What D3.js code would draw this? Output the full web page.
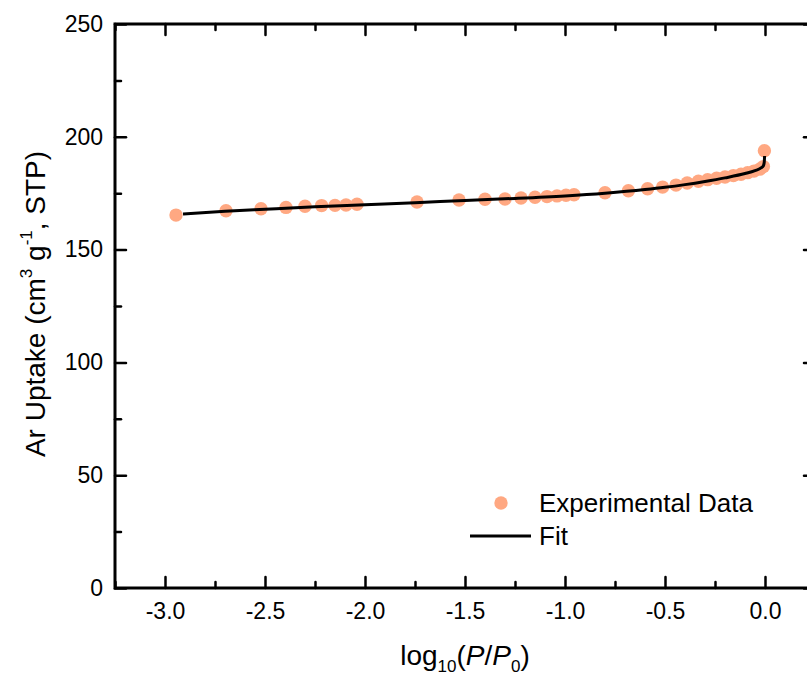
<!DOCTYPE html>
<html lang="en">
<head>
  <meta charset="UTF-8">
  <title>Ar Uptake</title>
  <style>
  body { margin: 0; background: #fff; }
  svg { display: block; font-family: "Liberation Sans", Arial, sans-serif; }
  .axis line { stroke: #000; stroke-width: 2.5px; stroke-linecap: round; }
  .axis text { font-size: 23px; fill: #000; }
  </style>
</head>
<body>
  <svg></svg>
  <script src="https://d3js.org/d3.v7.min.js"></script>
  <script>

  // experimental points
  var expX = [-2.945, -2.695, -2.52, -2.395, -2.30, -2.217, -2.15, -2.095, -2.04,
              -1.74, -1.53, -1.40, -1.30, -1.22, -1.15, -1.09, -1.04, -0.995, -0.955,
              -0.80, -0.683, -0.587, -0.512, -0.445, -0.389, -0.333, -0.287, -0.242,
              -0.20, -0.158, -0.12, -0.087, -0.055, -0.025, -0.008, -0.003];
  var expY = [165.3, 167.2, 168.1, 168.7, 169.2, 169.5, 169.6, 169.8, 170.1,
              171.1, 172.0, 172.3, 172.4, 172.9, 173.2, 173.5, 173.8, 174.1, 174.3,
              175.2, 176.1, 177.0, 177.7, 178.6, 179.5, 180.3, 181.0, 181.6,
              182.2, 182.8, 183.4, 184.1, 184.8, 185.7, 186.8, 193.8];

  // fit curve
  var fitX = [-2.91, -2.7, -2.5, -2.25, -2.0, -1.75, -1.5, -1.25, -1.0, -0.8, -0.6,
              -0.5, -0.4, -0.3, -0.2, -0.1, -0.05, -0.02, -0.008, -0.004, -0.002];
  var fitY = [165.8, 167.0, 167.9, 169.0, 169.9, 170.8, 171.8, 172.7, 173.8, 175.0, 176.6,
              177.6, 178.8, 180.2, 181.8, 183.7, 185.0, 186.2, 187.2, 188.6, 191.5];

  var xMajor = [-3.0, -2.5, -2.0, -1.5, -1.0, -0.5, 0.0];
  var xMinor = [-3.25, -2.75, -2.25, -1.75, -1.25, -0.75, -0.25, 0.25];
  var yMajor = [0, 50, 100, 150, 200, 250];
  var yMinor = [25, 75, 125, 175, 225];

  var width = 807, height = 675;
  var mLeft = 115, mRight = 815, mTop = 24, mBottom = 588;

  var svg = d3.select('svg').attr('width', width).attr('height', height);

  var x = d3.scaleLinear().domain([-3.25, 0.25]).range([mLeft, mRight]);
  var y = d3.scaleLinear().domain([0, 250]).range([mBottom, mTop]);

  function fmt(d) { return d3.format('.1f')(d).replace('\u2212', '-'); }

  function addAxis(axis, tx, ty) {
    var g = svg.append('g').attr('class', 'axis')
      .attr('transform', 'translate(' + tx + ',' + ty + ')')
      .call(axis);
    g.select('.domain').remove();
    return g;
  }

  // minor ticks, then majors (all pointing inward)
  addAxis(d3.axisBottom(x).tickValues(xMinor).tickSize(-6).tickFormat(''), 0, mBottom);
  addAxis(d3.axisBottom(x).tickValues(xMajor).tickSize(-11).tickPadding(15).tickFormat(fmt), 0, mBottom);
  addAxis(d3.axisTop(x).tickValues(xMinor).tickSize(-6).tickFormat(''), 0, mTop);
  addAxis(d3.axisTop(x).tickValues(xMajor).tickSize(-11).tickFormat(''), 0, mTop);
  addAxis(d3.axisLeft(y).tickValues(yMinor).tickSize(-6).tickFormat(''), mLeft, 0);
  addAxis(d3.axisLeft(y).tickValues(yMajor).tickSize(-11).tickPadding(12).tickFormat(d3.format('d')), mLeft, 0);
  addAxis(d3.axisRight(y).tickValues(yMinor).tickSize(-6).tickFormat(''), mRight, 0);
  addAxis(d3.axisRight(y).tickValues(yMajor).tickSize(-11).tickFormat(''), mRight, 0);

  // frame
  svg.append('rect')
     .attr('x', mLeft).attr('y', mTop)
     .attr('width', mRight - mLeft).attr('height', mBottom - mTop)
     .attr('fill', 'none').attr('stroke', '#000').attr('stroke-width', 3);

  var pts = expX.map(function (d, i) { return [d, expY[i]]; });
  var fit = fitX.map(function (d, i) { return [d, fitY[i]]; });

  svg.append('g').selectAll('circle')
     .data(pts)
     .enter()
     .append('circle')
     .attr('cx', function (d) { return x(d[0]); })
     .attr('cy', function (d) { return y(d[1]); })
     .attr('r', 6.7)
     .attr('fill', '#FFA882');

  var line = d3.line()
    .x(function (d) { return x(d[0]); })
    .y(function (d) { return y(d[1]); })
    .curve(d3.curveMonotoneX);

  svg.append('path')
     .datum(fit)
     .attr('d', line)
     .attr('fill', 'none')
     .attr('stroke', '#000')
     .attr('stroke-width', 3);

  // legend
  var lg = svg.append('g').attr('font-size', 26);
  lg.append('circle').attr('cx', 501).attr('cy', 503).attr('r', 6.7).attr('fill', '#FFA882');
  lg.append('text').attr('x', 539).attr('y', 512).text('Experimental Data');
  lg.append('line').attr('x1', 470).attr('x2', 531).attr('y1', 536).attr('y2', 536)
    .attr('stroke', '#000').attr('stroke-width', 3);
  lg.append('text').attr('x', 539).attr('y', 545).text('Fit');

  // axis titles
  var xt = svg.append('text')
    .attr('x', (mLeft + mRight) / 2).attr('y', 665)
    .attr('text-anchor', 'middle').attr('font-size', 28);
  xt.append('tspan').text('log');
  xt.append('tspan').attr('font-size', 17).attr('dy', 7).text('10');
  xt.append('tspan').attr('dy', -7).text('(');
  xt.append('tspan').attr('font-style', 'italic').text('P');
  xt.append('tspan').text('/');
  xt.append('tspan').attr('font-style', 'italic').text('P');
  xt.append('tspan').attr('font-size', 17).attr('dy', 7).text('0');
  xt.append('tspan').attr('dy', -7).text(')');

  var yt = svg.append('text')
    .attr('transform', 'translate(45,' + ((mTop + mBottom) / 2 - 2) + ') rotate(-90)')
    .attr('text-anchor', 'middle').attr('font-size', 28);
  yt.append('tspan').text('Ar Uptake (cm');
  yt.append('tspan').attr('font-size', 17).attr('dy', -13).text('3');
  yt.append('tspan').attr('dy', 13).text(' g');
  yt.append('tspan').attr('font-size', 17).attr('dy', -13).text('-1');
  yt.append('tspan').attr('dy', 13).text(', STP)');

  </script>
</body>
</html>
